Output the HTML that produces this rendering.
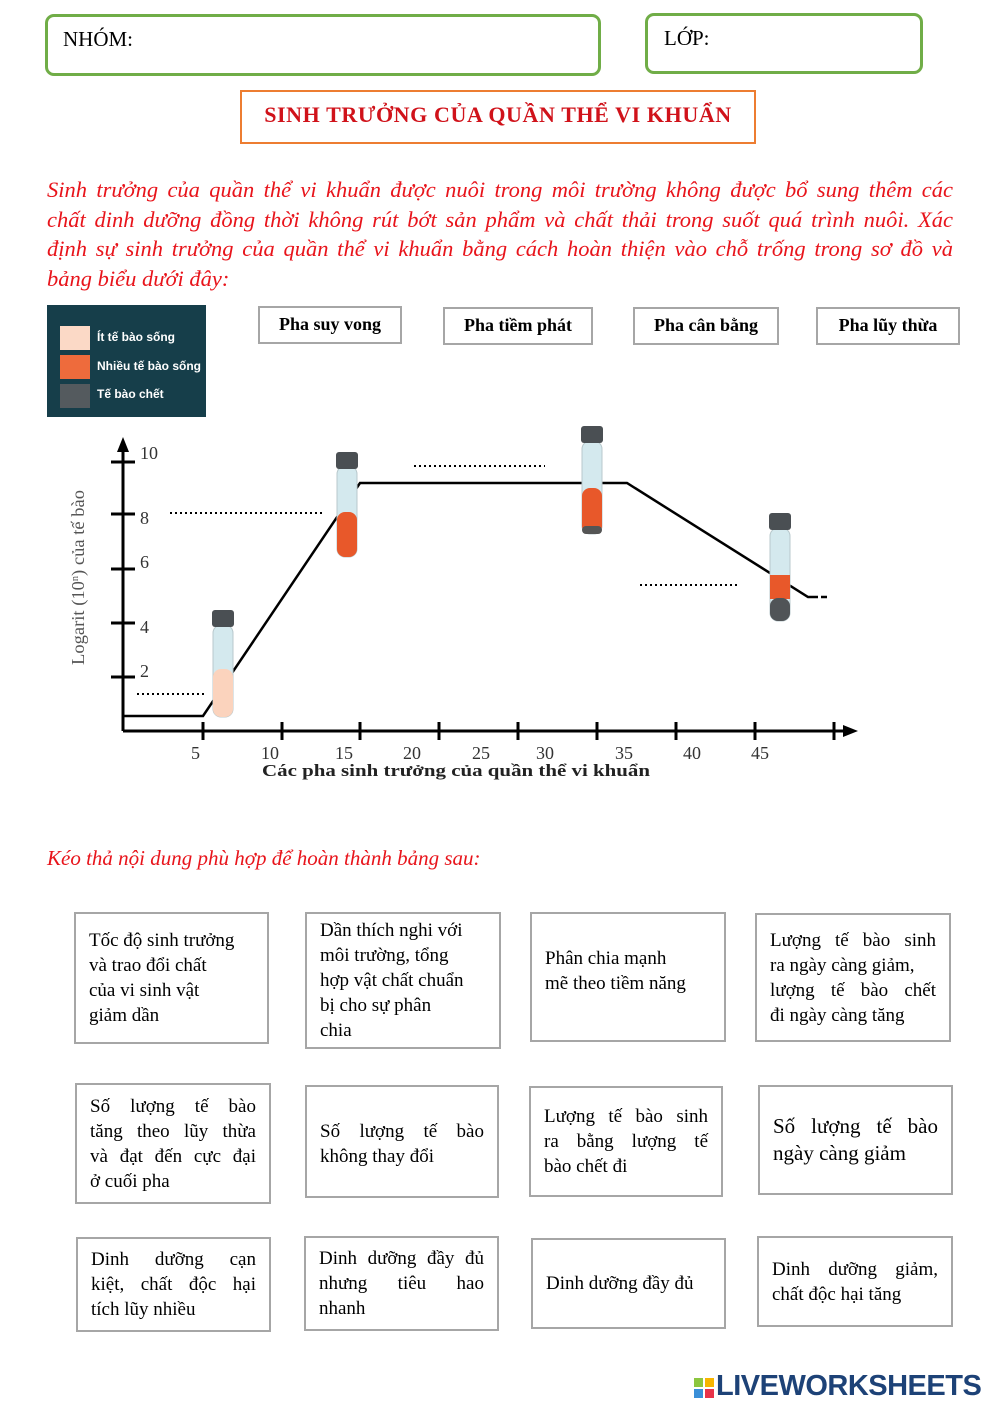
<!DOCTYPE html>
<html><head><meta charset="utf-8"><style>
body{margin:0;width:1000px;height:1414px;background:#fff;position:relative;font-family:"Liberation Serif",serif;overflow:hidden}
.a{position:absolute;box-sizing:border-box}
.g{border:3px solid #70ad47;border-radius:9px}
.ph{border:2px solid #a6a6a6;font-weight:bold;font-size:18px;text-align:center;line-height:33px}
.bx{border:2px solid #a6a6a6;font-size:19px;line-height:25px;padding:0 13px;display:flex;align-items:center;white-space:nowrap}
.bx>div{width:100%}
.j{text-align:justify;text-align-last:justify}
.red{color:#e8141b;font-style:italic;font-size:21px}
.p div{text-align:justify;text-align-last:justify;height:29.5px}
</style></head><body>
<div class="a g" style="left:45px;top:14px;width:556px;height:62px;font-size:21px;padding:10px 0 0 15px">NHÓM:</div>
<div class="a g" style="left:645px;top:13px;width:278px;height:61px;font-size:21px;padding:10px 0 0 16px">LỚP:</div>
<div class="a" style="left:240px;top:90px;width:516px;height:54px;border:2px solid #ed7d31;color:#d0121a;font-weight:bold;font-size:22px;text-align:center;padding-top:10px;letter-spacing:0.6px">SINH TRƯỞNG CỦA QUẦN THỂ VI KHUẨN</div>
<div class="a red p" style="left:47px;top:175px;width:906px;line-height:29.5px;white-space:nowrap;font-size:22.5px">
<div>Sinh trưởng của quần thể vi khuẩn được nuôi trong môi trường không được bổ sung thêm các</div>
<div>chất dinh dưỡng đồng thời không rút bớt sản phẩm và chất thải trong suốt quá trình nuôi. Xác</div>
<div>định sự sinh trưởng của quần thể vi khuẩn bằng cách hoàn thiện vào chỗ trống trong sơ đồ và</div>
<div style="text-align-last:left">bảng biểu dưới đây:</div>
</div>

<div class="a" style="left:47px;top:305px;width:159px;height:112px;background:#163e4a;font-family:'Liberation Sans',sans-serif;font-weight:bold;font-size:12px;color:#fff">
<div class="a" style="left:13px;top:21px;width:30px;height:24px;background:#fbd9c6"></div><div class="a" style="left:50px;top:25px">Ít tế bào sống</div>
<div class="a" style="left:13px;top:50px;width:30px;height:24px;background:#ee6b3c"></div><div class="a" style="left:50px;top:54px">Nhiều tế bào sống</div>
<div class="a" style="left:13px;top:79px;width:30px;height:24px;background:#545a5e"></div><div class="a" style="left:50px;top:82px">Tế bào chết</div>
</div>
<div class="a ph" style="left:258px;top:306px;width:144px;height:38px">Pha suy vong</div>
<div class="a ph" style="left:443px;top:307px;width:150px;height:38px">Pha tiềm phát</div>
<div class="a ph" style="left:633px;top:307px;width:146px;height:38px">Pha cân bằng</div>
<div class="a ph" style="left:816px;top:307px;width:144px;height:38px">Pha lũy thừa</div>

<svg class="a" style="left:0;top:0" width="1000" height="800" font-family="Liberation Serif,serif">
<g stroke="#000" stroke-width="3" fill="none">
<line x1="123" y1="731" x2="123" y2="445"/><line x1="123" y1="731" x2="848" y2="731"/>
</g>
<polygon points="123,437 117,452 129,452" fill="#000"/><polygon points="858,731 843,725 843,737" fill="#000"/>
<g stroke="#000" stroke-width="3">
<line x1="111" y1="462" x2="135" y2="462"/><line x1="111" y1="514" x2="135" y2="514"/><line x1="111" y1="569" x2="135" y2="569"/><line x1="111" y1="623" x2="135" y2="623"/><line x1="111" y1="677" x2="135" y2="677"/>
<line x1="203" y1="722" x2="203" y2="740"/><line x1="282" y1="722" x2="282" y2="740"/><line x1="360" y1="722" x2="360" y2="740"/><line x1="439" y1="722" x2="439" y2="740"/><line x1="518" y1="722" x2="518" y2="740"/><line x1="597" y1="722" x2="597" y2="740"/><line x1="676" y1="722" x2="676" y2="740"/><line x1="755" y1="722" x2="755" y2="740"/><line x1="834" y1="722" x2="834" y2="740"/>
</g>
<g font-size="18" fill="#333">
<text x="140" y="459">10</text><text x="140" y="524">8</text><text x="140" y="568">6</text><text x="140" y="633">4</text><text x="140" y="677">2</text>
<text x="191" y="759">5</text><text x="261" y="759">10</text><text x="335" y="759">15</text><text x="403" y="759">20</text><text x="472" y="759">25</text><text x="536" y="759">30</text><text x="615" y="759">35</text><text x="683" y="759">40</text><text x="751" y="759">45</text>
</g>
<text x="262" y="776" font-size="17" font-weight="bold" fill="#222" textLength="388" lengthAdjust="spacingAndGlyphs">Các pha sinh trưởng của quần thể vi khuẩn</text>
<text transform="translate(84,665) rotate(-90)" font-size="18" fill="#555" textLength="175" lengthAdjust="spacingAndGlyphs">Logarit (10<tspan font-size="10" dy="-6">n</tspan><tspan dy="6">) của tế bào</tspan></text>
<polyline points="123,716 203,716 360,483 627,483 808,597 812,597" fill="none" stroke="#000" stroke-width="2.5"/>
<line x1="812" y1="597" x2="828" y2="597" stroke="#000" stroke-width="2.5" stroke-dasharray="6,3"/>
<g stroke="#000" stroke-width="2" stroke-dasharray="2,3">
<line x1="137" y1="694" x2="205" y2="694"/><line x1="170" y1="513" x2="322" y2="513"/><line x1="414" y1="466" x2="545" y2="466"/><line x1="640" y1="585" x2="740" y2="585"/>
</g>
<g>
<rect x="213" y="625" width="20" height="92" rx="8" fill="#d4e9ee" stroke="#b8c8cc"/><rect x="213" y="669" width="20" height="48" rx="8" fill="#fbd3bd"/><rect x="212" y="610" width="22" height="17" rx="3" fill="#4a4f53"/>
<rect x="337" y="466" width="20" height="91" rx="8" fill="#d4e9ee" stroke="#b8c8cc"/><rect x="337" y="512" width="20" height="45" rx="8" fill="#e8582a"/><rect x="336" y="452" width="22" height="17" rx="3" fill="#4a4f53"/>
<rect x="582" y="441" width="20" height="93" rx="8" fill="#d4e9ee" stroke="#b8c8cc"/><rect x="582" y="488" width="20" height="46" rx="8" fill="#e8582a"/><rect x="582" y="526" width="20" height="8" rx="4" fill="#555"/><rect x="581" y="426" width="22" height="17" rx="3" fill="#4a4f53"/>
<rect x="770" y="528" width="20" height="93" rx="8" fill="#d4e9ee" stroke="#b8c8cc"/><rect x="770" y="575" width="20" height="24" fill="#e8582a"/><rect x="770" y="598" width="20" height="23" rx="8" fill="#505457"/><rect x="769" y="513" width="22" height="17" rx="3" fill="#4a4f53"/>
</g>
</svg>

<div class="a red" style="left:47px;top:846px">Kéo thả nội dung phù hợp để hoàn thành bảng sau:</div>

<div class="a bx" style="left:74px;top:912px;width:195px;height:132px"><div>Tốc độ sinh trưởng<br>và trao đổi chất<br>của vi sinh vật<br>giảm dần</div></div>
<div class="a bx" style="left:305px;top:912px;width:196px;height:137px"><div>Dần thích nghi với<br>môi trường, tổng<br>hợp vật chất chuẩn<br>bị cho sự phân<br>chia</div></div>
<div class="a bx" style="left:530px;top:912px;width:196px;height:130px;align-items:flex-start;padding-top:32px"><div>Phân chia mạnh<br>mẽ theo tiềm năng</div></div>
<div class="a bx" style="left:755px;top:913px;width:196px;height:129px"><div><div class="j">Lượng tế bào sinh</div><div>ra ngày càng giảm,</div><div class="j">lượng tế bào chết</div><div>đi ngày càng tăng</div></div></div>

<div class="a bx" style="left:75px;top:1083px;width:196px;height:121px"><div><div class="j">Số lượng tế bào</div><div class="j">tăng theo lũy thừa</div><div class="j">và đạt đến cực đại</div><div>ở cuối pha</div></div></div>
<div class="a bx" style="left:305px;top:1085px;width:194px;height:113px;align-items:flex-start;padding-top:32px"><div><div class="j">Số lượng tế bào</div><div>không thay đổi</div></div></div>
<div class="a bx" style="left:529px;top:1086px;width:194px;height:111px"><div><div class="j">Lượng tế bào sinh</div><div class="j">ra bằng lượng tế</div><div>bào chết đi</div></div></div>
<div class="a bx" style="left:758px;top:1085px;width:195px;height:110px;font-size:21px;line-height:27px"><div><div class="j">Số lượng tế bào</div><div>ngày càng giảm</div></div></div>

<div class="a bx" style="left:76px;top:1237px;width:195px;height:95px"><div><div class="j">Dinh dưỡng cạn</div><div class="j">kiệt, chất độc hại</div><div>tích lũy nhiều</div></div></div>
<div class="a bx" style="left:304px;top:1236px;width:195px;height:95px"><div><div class="j">Dinh dưỡng đầy đủ</div><div class="j">nhưng tiêu hao</div><div>nhanh</div></div></div>
<div class="a bx" style="left:531px;top:1238px;width:195px;height:91px"><div>Dinh dưỡng đầy đủ</div></div>
<div class="a bx" style="left:757px;top:1236px;width:196px;height:91px"><div><div class="j">Dinh dưỡng giảm,</div><div>chất độc hại tăng</div></div></div>

<div class="a" style="left:694px;top:1378px;width:9px;height:9px;background:#8cc63f"></div>
<div class="a" style="left:705px;top:1378px;width:9px;height:9px;background:#f7b500"></div>
<div class="a" style="left:694px;top:1389px;width:9px;height:9px;background:#3a8fd8"></div>
<div class="a" style="left:705px;top:1389px;width:9px;height:9px;background:#e8334a"></div>
<div class="a" style="left:716px;top:1370px;font-family:'Liberation Sans',sans-serif;font-weight:bold;font-size:29px;color:#1d4277;letter-spacing:-0.5px">LIVEWORKSHEETS</div>
</body></html>
